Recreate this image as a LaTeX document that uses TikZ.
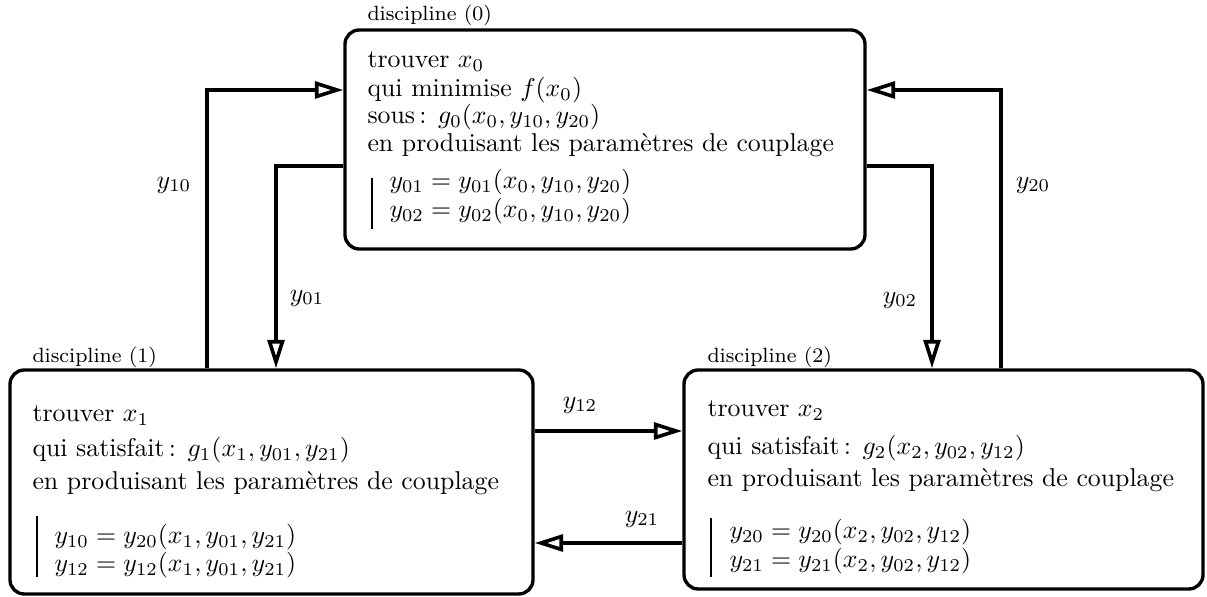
\documentclass[tikz,border=0pt]{standalone}
\usepackage{fontspec}
\usetikzlibrary{arrows.meta,fit}
\begin{document}
\begin{tikzpicture}[x=0.3876pt,y=-0.3876pt,
  box/.style={draw, line width=1.3pt, rounded corners=5.5pt, inner sep=0pt},
  txt/.style={anchor=base west, inner sep=0pt, font=\normalsize},
  lab/.style={anchor=base west, inner sep=0pt, font=\footnotesize},
  flow/.style={line width=1.4pt, -{Triangle[open, length=11pt, width=6.5pt]}},
  vlab/.style={inner sep=0pt},
  bar/.style={line width=0.5pt}]
\useasboundingbox (0,0) rectangle (1207,597);

% boxes
\node[box, fit={(345,30) (865,249)}] (b0) {};
\node[box, fit={(10,370) (533,594)}] (b1) {};
\node[box, fit={(684,370) (1203,589)}] (b2) {};

% titles
\node[lab] (t0) at (367,21) {discipline (0)};
\node[lab] (t1) at (32,363) {discipline (1)};
\node[lab] (t2) at (707,363) {discipline (2)};

% box 0 content
\node[txt] (a1) at (367,68) {trouver $x_0$};
\node[txt] (a2) at (367,97) {qui minimise $f(x_0)$};
\node[txt] (a3) at (367,124) {sous\,: $g_0(x_0,y_{10},y_{20})$};
\node[txt] (a4) at (367,152) {en produisant les param\`etres de couplage};
\node[txt] (a5) at (389,189) {$y_{01}=y_{01}(x_0,y_{10},y_{20})$};
\node[txt] (a6) at (389,218) {$y_{02}=y_{02}(x_0,y_{10},y_{20})$};
\coordinate (a7) at (372,178);
\coordinate (a8) at (372,229);
\draw[bar] (a7) -- (a8);

% box 1 content
\node[txt] (d1) at (32,422) {trouver $x_1$};
\node[txt] (d2) at (32,457) {qui satisfait\,: $g_1(x_1,y_{01},y_{21})$};
\node[txt] (d3) at (32,490) {en produisant les param\`etres de couplage};
\node[txt] (d4) at (54,544) {$y_{10}=y_{20}(x_1,y_{01},y_{21})$};
\node[txt] (d5) at (54,572) {$y_{12}=y_{12}(x_1,y_{01},y_{21})$};
\coordinate (d6) at (37,516);
\coordinate (d7) at (37,577);
\draw[bar] (d6) -- (d7);

% box 2 content
\node[txt] (e1) at (707,417) {trouver $x_2$};
\node[txt] (e2) at (707,455) {qui satisfait\,: $g_2(x_2,y_{02},y_{12})$};
\node[txt] (e3) at (707,487) {en produisant les param\`etres de couplage};
\node[txt] (e4) at (729,539) {$y_{20}=y_{20}(x_2,y_{02},y_{12})$};
\node[txt] (e5) at (729,568) {$y_{21}=y_{21}(x_2,y_{02},y_{12})$};
\coordinate (e6) at (711,518);
\coordinate (e7) at (711,577);
\draw[bar] (e6) -- (e7);

% connectors
\coordinate (c10) at (207,90);
\coordinate (c01) at (276,166);
\coordinate (c02) at (932,166);
\coordinate (c20) at (1001,90);
\coordinate (c12) at (600,431);
\coordinate (c21) at (600,543);
\draw[flow] (b1.north -| c10) |- (b0.west |- c10);
\draw[flow] (b0.west |- c01) -| (b1.north -| c01);
\draw[flow] (b0.east |- c02) -| (b2.north -| c02);
\draw[flow] (b2.north -| c20) |- (b0.east |- c20);
\draw[flow] (b1.east |- c12) -- (b2.west |- c12);
\draw[flow] (b2.west |- c21) -- (b1.east |- c21);

% connector labels
\node[vlab] (l10) at (174,185) {$y_{10}$};
\node[vlab] (l01) at (307,298) {$y_{01}$};
\node[vlab] (l02) at (900,300) {$y_{02}$};
\node[vlab] (l20) at (1033,185) {$y_{20}$};
\node[vlab] (l12) at (580,405) {$y_{12}$};
\node[vlab] (l21) at (642,519) {$y_{21}$};
\end{tikzpicture}
\end{document}
